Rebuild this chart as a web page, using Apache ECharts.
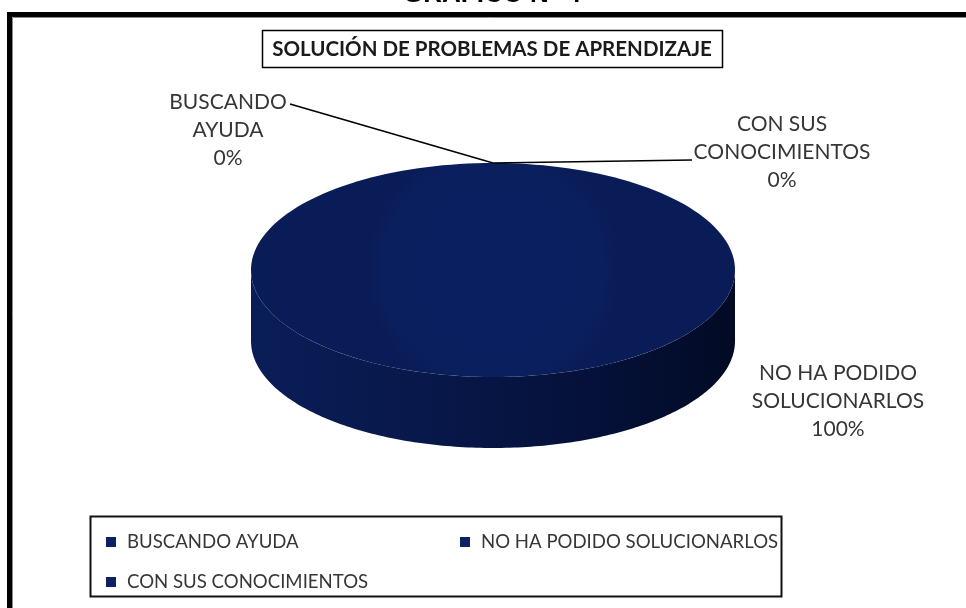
<!DOCTYPE html>
<html>
<head>
<meta charset="utf-8">
<script src="https://cdn.jsdelivr.net/npm/echarts@6/dist/echarts.min.js"></script>
<style>
  html, body { margin: 0; padding: 0; background: #ffffff; }
  #chart { width: 966px; height: 608px; }
</style>
</head>
<body>
<div id="chart"></div>
<script>
// Survey answers: how learning problems get solved
const categories = ['BUSCANDO AYUDA', 'NO HA PODIDO SOLUCIONARLOS', 'CON SUS CONOCIMIENTOS'];
const labelLines = [['BUSCANDO', 'AYUDA'], ['NO HA PODIDO', 'SOLUCIONARLOS'], ['CON SUS', 'CONOCIMIENTOS']];
const values = [0, 100, 0];
const chartTitle = 'SOLUCIÓN DE PROBLEMAS DE APRENDIZAJE';
const heading = 'GRAFICO N° 4';

// Tilted disc geometry (pixels)
const disc = { cx: 493, cy: 270, rx: 242, ry: 107, depth: 71 };
// Where each slice label sits, and where its leader line starts
const labelSpots = [
  { x: 228, y: 130, hook: [290, 104] },
  { x: 838, y: 401, hook: null },
  { x: 782, y: 152, hook: [692, 160] }
];

const FONT = 'Lato, "Open Sans", sans-serif';
const TEXT_COLOR = '#363636';
const NAVY = '#0b2163';

const total = values.reduce((a, b) => a + b, 0);

function pointAt(angle, dy) {
  // angle measured clockwise from 12 o'clock
  return [disc.cx + disc.rx * Math.sin(angle), disc.cy - disc.ry * Math.cos(angle) + (dy || 0)];
}

function renderSlice(idx) {
  return function (params, api) {
    const v = api.value(0);
    const before = values.slice(0, idx).reduce((a, b) => a + b, 0);
    const a0 = before / total * Math.PI * 2;
    const a1 = (before + v) / total * Math.PI * 2;
    const n = 180;
    const children = [];
    if (v > 0) {
      // front wall: only the part of the rim that faces the viewer
      const s0 = Math.max(a0, Math.PI / 2);
      const s1 = Math.min(a1, Math.PI * 1.5);
      if (s1 > s0) {
        const wall = [];
        for (let k = 0; k <= n; k++) wall.push(pointAt(s0 + (s1 - s0) * k / n));
        for (let k = n; k >= 0; k--) wall.push(pointAt(s0 + (s1 - s0) * k / n, disc.depth));
        children.push({
          type: 'polygon',
          shape: { points: wall },
          style: {
            fill: {
              type: 'linear', x: 0, y: 0, x2: 1, y2: 0,
              colorStops: [
                { offset: 0, color: '#0b1d58' },
                { offset: 0.35, color: '#08184a' },
                { offset: 0.7, color: '#05113a' },
                { offset: 1, color: '#020a24' }
              ]
            }
          },
          z2: 1
        });
      }
      // top face
      const top = [];
      const full = a1 - a0 >= Math.PI * 2 - 1e-9;
      if (!full) top.push([disc.cx, disc.cy]);
      for (let k = 0; k <= n; k++) top.push(pointAt(a0 + (a1 - a0) * k / n));
      children.push({
        type: 'polygon',
        shape: { points: top },
        style: {
          fill: {
            type: 'radial', x: 0.5, y: 0.5, r: 0.6,
            colorStops: [
              { offset: 0, color: '#0a1f60' },
              { offset: 0.85, color: '#0a1f5e' },
              { offset: 1, color: '#0a1c57' }
            ]
          }
        },
        z2: 2
      });
    }
    // slice label
    const spot = labelSpots[idx];
    const pct = Math.round(v / total * 100) + '%';
    children.push({
      type: 'text',
      x: spot.x, y: spot.y,
      style: {
        text: labelLines[idx].concat([pct]).join('\n'),
        fontFamily: FONT, fontSize: 21, lineHeight: 28,
        fill: TEXT_COLOR, align: 'center', verticalAlign: 'middle'
      },
      z2: 10
    });
    if (spot.hook) {
      const anchor = pointAt((a0 + a1) / 2);
      children.push({
        type: 'polyline',
        shape: { points: [spot.hook, anchor] },
        style: { stroke: '#000000', lineWidth: 1.6 },
        z2: 10
      });
    }
    return { type: 'group', children: children };
  };
}

const series = categories.map((name, i) => ({
  type: 'custom',
  name: name,
  coordinateSystem: 'none',
  itemStyle: { color: NAVY },
  data: [[values[i]]],
  renderItem: renderSlice(i),
  silent: true
}));

const legendBase = {
  orient: 'vertical',
  top: 527,
  icon: 'rect',
  itemWidth: 10,
  itemHeight: 10,
  itemGap: 20,
  selectedMode: false,
  textStyle: { fontFamily: FONT, fontSize: 18.6, lineHeight: 20, color: TEXT_COLOR, padding: [0, 0, 0, 6] }
};

const option = {
  animation: false,
  backgroundColor: '#ffffff',
  legend: [
    Object.assign({}, legendBase, { left: 101, data: [categories[0], categories[2]] }),
    Object.assign({}, legendBase, { left: 455, data: [categories[1]] })
  ],
  graphic: [
    // outer frame
    { type: 'rect', shape: { x: 9.5, y: 14.5, width: 1000, height: 700 }, style: { fill: 'none', stroke: '#000', lineWidth: 5 }, silent: true },
    { type: 'rect', shape: { x: 12.5, y: 17.5, width: 1000, height: 700 }, style: { fill: 'none', stroke: '#8c8c8c', lineWidth: 1 }, silent: true },
    // heading above the frame
    { type: 'text', x: 492, y: -5, style: { text: heading, fontFamily: '"Liberation Sans", Arial, sans-serif', fontWeight: 'bold', fontSize: 26, fill: '#000', align: 'center', verticalAlign: 'middle' }, silent: true },
    // title box
    { type: 'rect', shape: { x: 262.5, y: 30.5, width: 460, height: 37 }, style: { fill: '#fff', stroke: '#000', lineWidth: 1.5 }, silent: true },
    { type: 'text', x: 492, y: 49, style: { text: chartTitle, fontFamily: FONT, fontWeight: 'bold', fontSize: 20.5, fill: '#1a1a1a', align: 'center', verticalAlign: 'middle' }, silent: true },
    // legend box
    { type: 'rect', shape: { x: 90.5, y: 516.5, width: 691, height: 80 }, style: { fill: 'none', stroke: '#111', lineWidth: 2 }, silent: true, z: -1 }
  ],
  series: series
};

const chart = echarts.init(document.getElementById('chart'), null, { renderer: 'canvas' });
chart.setOption(option);
</script>
</body>
</html>
